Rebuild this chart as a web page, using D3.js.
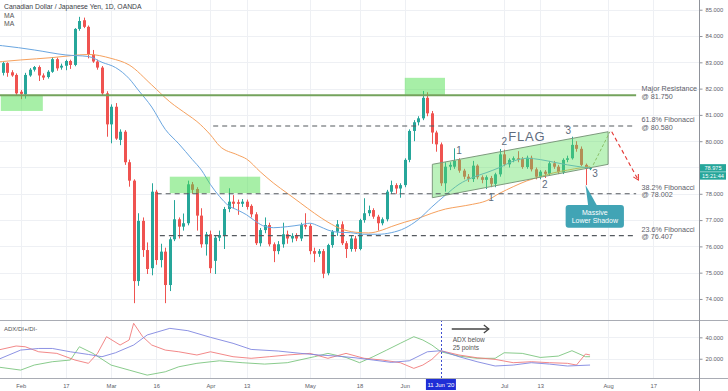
<!DOCTYPE html>
<html>
<head>
<meta charset="utf-8">
<script src="https://cdn.jsdelivr.net/npm/d3@7"></script>
<style>
body { margin: 0; background: #fff; }
text { font-family: "Liberation Sans", Arial, sans-serif; }
</style>
</head>
<body>
<div id="chart"></div>
<script>
// daily bars, index 0 = 28 Jan 2020 (trading days only)
const open = [82.60,82.97,82.62,82.52,81.88,81.78,82.50,82.72,82.82,82.50,
  82.44,82.64,83.12,82.80,82.87,83.05,82.90,84.27,84.60,84.35,
  83.30,83.03,82.80,81.82,80.64,81.31,80.05,80.36,79.20,78.50,
  74.68,76.97,75.86,75.17,78.08,75.48,75.80,74.53,76.27,77.03,
  76.75,76.88,78.36,78.18,77.17,76.08,76.46,75.45,76.33,76.43,
  77.42,77.70,77.68,77.62,77.70,77.54,77.22,76.12,76.62,76.81,
  76.08,75.82,76.08,76.46,76.30,76.40,76.30,76.81,76.78,75.82,
  75.72,75.82,74.98,76.05,76.56,76.84,76.12,75.90,76.30,75.90,
  77.00,77.26,77.38,77.13,76.88,77.03,78.08,78.33,78.20,78.33,
  79.29,80.39,80.72,80.87,81.65,81.06,80.33,79.88,78.40,79.03,
  79.03,79.29,78.88,78.65,78.56,79.07,78.63,78.53,78.60,78.38,
  78.74,79.50,79.12,79.29,79.35,79.32,79.02,79.37,78.93,78.65,
  78.84,78.76,79.16,79.03,78.82,79.29,79.35,79.86,79.71,79.10,
  78.95];
const high = [83.02,83.00,82.70,82.58,81.95,82.60,82.78,82.86,82.88,82.58,
  82.70,83.20,83.18,82.95,83.10,83.10,84.30,84.73,84.70,84.40,
  83.47,83.10,82.86,81.90,81.40,81.45,80.45,80.42,79.30,78.55,
  77.26,77.10,76.15,78.40,78.15,76.10,75.95,76.35,77.76,77.10,
  77.25,78.50,78.45,78.25,77.45,76.55,76.60,76.40,76.60,77.50,
  78.21,77.95,77.78,77.80,77.78,77.60,77.30,76.70,77.10,76.90,
  76.15,76.20,76.90,76.60,76.50,76.50,76.90,77.26,76.85,75.95,
  75.90,75.90,76.10,76.62,77.00,76.95,76.20,76.40,76.40,77.05,
  77.83,77.55,77.45,77.20,77.10,78.15,78.50,78.40,78.40,79.35,
  80.45,80.80,80.95,81.91,81.86,81.15,80.40,79.95,79.20,79.20,
  79.73,79.35,78.95,78.75,79.25,79.12,78.70,78.70,78.68,78.80,
  79.70,79.68,79.35,79.42,79.62,79.40,79.45,79.45,79.00,78.90,
  78.90,79.25,79.25,79.10,79.35,79.45,80.17,80.00,79.80,79.15,
  79.02];
const low = [82.50,82.45,82.45,81.76,81.60,81.62,82.45,82.65,82.29,82.33,
  82.38,82.60,82.68,82.72,82.70,82.75,82.85,84.20,84.30,83.15,
  82.98,82.72,81.72,80.17,79.92,80.05,79.85,79.10,78.27,73.84,
  74.50,75.60,74.95,74.90,75.30,75.20,73.84,74.30,76.20,76.30,
  76.60,76.80,78.00,76.60,75.95,75.65,74.98,74.95,76.20,75.90,
  77.30,77.45,77.20,77.50,77.40,77.10,76.05,76.00,76.50,76.00,
  75.40,75.70,75.95,76.10,76.15,76.20,76.20,76.65,75.70,75.40,
  75.60,74.79,74.90,75.95,76.40,76.05,75.56,75.80,75.80,75.85,
  76.90,77.15,77.05,76.60,76.80,76.95,78.00,78.00,77.85,78.25,
  79.20,80.00,80.60,80.80,80.95,79.90,79.60,78.30,78.08,78.90,
  78.95,78.80,78.55,78.45,78.45,78.55,78.40,78.18,78.25,78.25,
  78.65,79.05,79.00,79.20,79.20,78.95,78.95,78.85,78.55,78.55,
  78.60,78.70,78.95,78.75,78.75,79.20,79.30,79.60,79.05,78.33,
  78.90];
const close = [82.97,82.60,82.50,81.82,81.80,82.52,82.72,82.82,82.50,82.42,
  82.64,83.12,82.77,82.87,83.05,82.90,84.27,84.57,84.35,83.30,
  83.03,82.80,81.82,80.64,81.31,80.10,80.36,79.20,78.50,74.68,
  76.97,75.86,75.14,78.08,75.48,75.80,74.53,76.27,77.03,76.75,
  76.88,78.36,78.15,77.17,76.08,76.46,75.17,76.33,76.43,77.42,
  77.70,77.62,77.62,77.70,77.50,77.22,76.12,76.62,76.81,76.08,
  75.82,76.08,76.46,76.30,76.40,76.30,76.81,76.75,75.82,75.72,
  75.82,74.96,76.05,76.56,76.84,76.12,75.90,76.30,75.90,77.00,
  77.26,77.38,77.13,76.88,77.03,78.08,78.33,78.20,78.33,79.29,
  80.39,80.72,80.87,81.65,81.06,80.33,79.88,78.40,79.03,79.10,
  79.25,78.88,78.65,78.57,79.07,78.63,78.53,78.63,78.38,78.74,
  79.50,79.12,79.29,79.35,79.29,79.02,79.37,78.93,78.65,78.84,
  78.76,79.16,79.03,78.82,79.29,79.35,79.86,79.71,79.10,78.95,
  78.975];

// moving averages: [bar index, value]
const maFast = [[-0.6,83.64],[0,83.63],[7,83.47],[14,83.28],[19,83.22],[22,83.0],[25,82.8],[28,82.38],
  [30,81.95],[33,81.3],[36,80.45],[39,79.9],[42,79.3],[44,78.9],[46,78.35],[48,77.9],[50,77.55],
  [52,77.38],[54,77.2],[56,76.95],[58,76.76],[60,76.71],[63,76.75],[66,76.82],[68,76.88],[70,76.77],
  [72,76.62],[74,76.54],[77,76.52],[80,76.46],[83,76.46],[86,76.52],[89,76.69],[92,77.02],[95,77.5],
  [98,77.95],[101,78.36],[104,78.62],[107,78.8],[110,79.0],[113,79.24],[116,79.35],[119,79.3],
  [122,79.2],[125,79.1],[128,79.02],[130,78.98]];
const maSlow = [[-0.6,83.02],[0,83.03],[4,83.09],[11,83.18],[15,83.25],[19,83.3],[24,83.15],[28,82.9],
  [33,82.14],[37,81.5],[41,81.0],[43,80.75],[46,80.24],[48,79.82],[52,79.48],[54,79.32],[57,78.84],
  [60,78.4],[63,78.02],[66,77.64],[69,77.26],[72,76.92],[75,76.66],[78,76.54],[81,76.51],[84,76.62],
  [86,76.75],[89,76.92],[92,77.07],[95,77.26],[98,77.42],[101,77.51],[104,77.6],[107,77.73],
  [110,78.02],[113,78.27],[116,78.49],[119,78.65],[122,78.8],[125,78.9],[128,78.99],[130,79.03]];

// ADX / DI+ / DI-: [bar index, value]
const adxLine = [[-0.6,20.0],[4,28.1],[8,29.6],[11,29.6],[15,26.5],[19,24.0],[22,21.9],[25,25.6],[29,32.8],
  [32,42.2],[37,48.4],[41,46.2],[46,40.0],[51,34.4],[55,28.7],[61,27.2],[66,25.0],[70,23.5],[74,22.5],
  [78,20.9],[82,18.8],[86,16.6],[90,18.1],[94,26.5],[97,27.5],[101,21.9],[105,17.2],[109,13.2],
  [113,14.1],[117,16.3],[121,15.0],[125,13.2],[130,14.1]];
const diMinus = [[-0.6,28.5],[3,31.9],[5,31.2],[8,26.5],[12,25.0],[16,18.8],[19,15.7],[21,25.0],[23,40.6],
  [26,32.8],[28,37.5],[29,53.1],[31,40.6],[33,32.8],[36,28.1],[39,26.5],[43,23.5],[46,26.5],[51,21.9],
  [55,20.4],[59,21.9],[63,23.5],[68,25.0],[72,20.4],[76,25.0],[80,20.4],[84,18.8],[88,16.3],[91,11.0],
  [93,14.1],[95,19.4],[97,27.5],[101,23.5],[105,20.9],[109,19.4],[113,16.3],[117,17.2],[121,16.3],
  [125,15.7],[127,14.1],[129,24.4],[130,23.5]];
const diPlus = [[-0.6,12.0],[4,9.4],[7,14.1],[11,17.2],[15,18.8],[17,31.2],[20,25.0],[24,14.1],[28,9.4],
  [32,4.7],[36,7.8],[39,12.5],[43,15.7],[48,18.1],[53,16.3],[58,15.0],[63,16.3],[69,21.9],[72,25.0],
  [76,21.2],[79,16.3],[82,21.9],[85,28.1],[88,34.4],[91,40.6],[93,37.5],[95,32.8],[97,26.5],[101,22.5],
  [105,20.4],[109,20.4],[111,25.6],[115,25.0],[119,21.2],[123,22.5],[126,27.5],[129,21.9],[130,21.9]];

// axis ticks
const timeTickIdx = [4,14,24,34,46,54,68,79,89,111,119,134,144];
const timeTickText = ["Feb","17","Mar","16","Apr","13","May","18","Jun","Jul","13","Aug","17"];
const priceTicks = [74,75,76,77,78,79,80,81,82,83,84,85];
const adxTicks = [20,40];

// analysis levels
const levels = [
  {price: 81.750, from: -0.6, name: "Major Resistance", kind: "solid"},
  {price: 80.580, from: 46.6, name: "61.8% Fibonacci", kind: "dash"},
  {price: 78.002, from: 34.1, name: "38.2% Fibonacci", kind: "dash"},
  {price: 76.407, from: 34.8, name: "23.6% Fibonacci", kind: "dash"}
];
const zones = [[-0.4,8.9,81.76,81.15],[37,45.9,78.65,78.02],[48,57,78.65,78.02],[89,97.9,82.41,81.76]];
const flagPts = [[95.1,79.12],[134,80.36],[134,79.12],[95.1,77.85]];
const waveTop = [[101,79.65,"1"],[111,79.98,"2"],[125.2,80.39,"3"]];
const waveBottom = [[108.1,77.86,"1"],[120,78.36,"2"],[131.1,78.78,"3"]];

const W = 728, H = 391;
const up = "#26a69a", down = "#ef5350";

let x = d3.scaleLinear().domain([0, 144]).range([2.6, 653.3]);
let y = d3.scaleLinear().domain([73.2, 85.37]).range([320, 0]);
let yAdx = d3.scaleLinear().domain([2, 56.2]).range([378, 320]);

let svg = d3.select("#chart").append("svg")
    .attr("width", W)
    .attr("height", H);

svg.append("defs").append("clipPath").attr("id", "mainclip")
    .append("rect").attr("x", 0).attr("y", 0).attr("width", 699).attr("height", 320);
svg.select("defs").append("clipPath").attr("id", "adxclip")
    .append("rect").attr("x", 0).attr("y", 320).attr("width", 699).attr("height", 58);

// grid
let grid = svg.append("g").attr("stroke", "#eef0f4").attr("stroke-width", 1);
grid.selectAll("line.v").data(timeTickIdx).enter().append("line")
    .attr("x1", d => Math.round(x(d)) + 0.5).attr("x2", d => Math.round(x(d)) + 0.5)
    .attr("y1", 0).attr("y2", 378);
grid.selectAll("line.h").data(priceTicks).enter().append("line")
    .attr("x1", 0).attr("x2", 699)
    .attr("y1", d => Math.round(y(d)) + 0.5).attr("y2", d => Math.round(y(d)) + 0.5);
grid.selectAll("line.a").data(adxTicks).enter().append("line")
    .attr("x1", 0).attr("x2", 699)
    .attr("y1", d => Math.round(yAdx(d)) + 0.5).attr("y2", d => Math.round(yAdx(d)) + 0.5);

let main = svg.append("g").attr("clip-path", "url(#mainclip)");

// candles
let idx = d3.range(close.length);
let candles = main.selectAll("g.candle").data(idx).enter().append("g")
    .attr("class", "candle");
candles.append("line")
    .attr("x1", i => Math.round(x(i)) + 0.5)
    .attr("x2", i => Math.round(x(i)) + 0.5)
    .attr("y1", i => y(high[i]))
    .attr("y2", i => y(low[i]))
    .attr("stroke", i => close[i] >= open[i] ? up : down)
    .attr("stroke-width", 1);
candles.append("rect")
    .attr("x", i => Math.round(x(i)) - 1)
    .attr("width", 3)
    .attr("y", i => y(Math.max(open[i], close[i])))
    .attr("height", i => Math.max(1, Math.abs(y(open[i]) - y(close[i]))))
    .attr("fill", i => close[i] >= open[i] ? up : down);

// moving averages
let maLine = d3.line().x(d => x(d[0])).y(d => y(d[1])).curve(d3.curveMonotoneX);
main.append("path").datum(maSlow).attr("d", maLine)
    .attr("fill", "none").attr("stroke", "#f6a15e").attr("stroke-width", 1);
main.append("path").datum(maFast).attr("d", maLine)
    .attr("fill", "none").attr("stroke", "#6aa6e0").attr("stroke-width", 1);

// highlighted zones
main.selectAll("rect.zone").data(zones).enter().append("rect")
    .attr("x", d => x(d[0])).attr("width", d => x(d[1]) - x(d[0]))
    .attr("y", d => y(d[2])).attr("height", d => y(d[3]) - y(d[2]))
    .attr("fill", "#4fe04f").attr("fill-opacity", 0.5);

// flag channel
main.append("polygon")
    .attr("points", flagPts.map(p => x(p[0]) + "," + y(p[1])).join(" "))
    .attr("fill", "#5fe05f").attr("fill-opacity", 0.42)
    .attr("stroke", "#7d9a7d").attr("stroke-width", 1);

// levels
levels.forEach(l => {
    main.append("line")
        .attr("x1", x(l.from)).attr("x2", x(140.2))
        .attr("y1", y(l.price)).attr("y2", y(l.price))
        .attr("stroke", l.kind == "solid" ? "#74a35c" : "#555a5f")
        .attr("stroke-width", l.kind == "solid" ? 2 : 1.1)
        .attr("stroke-dasharray", l.kind == "solid" ? null : "5,4");
    let t = svg.append("text")
        .attr("x", x(141.4))
        .attr("y", y(l.price) - 4)
        .attr("font-size", 7.2)
        .attr("fill", "#5d6069");
    t.append("tspan").attr("x", x(141.4)).attr("dy", 0).text(l.name);
    t.append("tspan").attr("x", x(141.4)).attr("dy", 7.6).text("@ " + l.price.toFixed(3));
});

// projected moves
main.append("line")
    .attr("x1", x(130.7)).attr("y1", y(79.10))
    .attr("x2", x(134.4)).attr("y2", y(80.36))
    .attr("stroke", "#8cc06a").attr("stroke-width", 1).attr("stroke-dasharray", "3,2");
let ax1 = x(134.8), ay1 = y(80.36), ax2 = x(140.7), ay2 = y(78.52);
main.append("line")
    .attr("x1", ax1).attr("y1", ay1).attr("x2", ax2).attr("y2", ay2)
    .attr("stroke", "#e53935").attr("stroke-width", 1.1).attr("stroke-dasharray", "4,3");
let ang = Math.atan2(ay2 - ay1, ax2 - ax1);
main.append("path")
    .attr("d", "M" + (ax2 - 6 * Math.cos(ang - 0.5)) + "," + (ay2 - 6 * Math.sin(ang - 0.5)) +
        "L" + ax2 + "," + ay2 +
        "L" + (ax2 - 6 * Math.cos(ang + 0.5)) + "," + (ay2 - 6 * Math.sin(ang + 0.5)))
    .attr("fill", "none").attr("stroke", "#e53935").attr("stroke-width", 1.1);

// flag text
svg.append("text").attr("x", x(116)).attr("y", y(80.17)).attr("dy", "0.35em")
    .attr("text-anchor", "middle").attr("font-size", 13).attr("letter-spacing", 0.8)
    .attr("fill", "#5e6c7e").text("FLAG");
svg.selectAll("text.wave").data(waveTop.concat(waveBottom)).enter().append("text")
    .attr("x", d => x(d[0])).attr("y", d => y(d[1])).attr("dy", "0.35em")
    .attr("text-anchor", "middle").attr("font-size", 10)
    .attr("fill", "#5e6c7e").text(d => d[2]);

// callout
let cTeal = "#41a4b5";
svg.append("path")
    .attr("d", "M" + x(129) + "," + y(78.33) + "L" + x(129.6) + "," + (y(77.57) + 1) +
        "L" + x(131.6) + "," + (y(77.57) + 1) + "Z")
    .attr("fill", cTeal);
svg.append("rect")
    .attr("x", x(124.6)).attr("y", y(77.57))
    .attr("width", x(137.5) - x(124.6)).attr("height", y(76.71) - y(77.57))
    .attr("rx", 3).attr("fill", cTeal);
svg.append("text").attr("x", x(131.05)).attr("y", y(77.57) + 9.5)
    .attr("text-anchor", "middle").attr("font-size", 7).attr("fill", "#fff").text("Massive");
svg.append("text").attr("x", x(131.05)).attr("y", y(77.57) + 17.5)
    .attr("text-anchor", "middle").attr("font-size", 7).attr("fill", "#fff").text("Lower Shadow");

// ADX pane
let adxG = svg.append("g").attr("clip-path", "url(#adxclip)");
let adxPath = d3.line().x(d => x(d[0])).y(d => yAdx(d[1])).curve(d3.curveLinear);
adxG.append("path").datum(diPlus).attr("d", adxPath)
    .attr("fill", "none").attr("stroke", "#7cc57f").attr("stroke-width", 0.9);
adxG.append("path").datum(diMinus).attr("d", adxPath)
    .attr("fill", "none").attr("stroke", "#f07b7b").attr("stroke-width", 0.9);
adxG.append("path").datum(adxLine).attr("d", adxPath)
    .attr("fill", "none").attr("stroke", "#7f86e0").attr("stroke-width", 0.9);

svg.append("line")
    .attr("x1", Math.round(x(97)) + 0.5).attr("x2", Math.round(x(97)) + 0.5)
    .attr("y1", 320).attr("y2", 380)
    .attr("stroke", "#3f4fd0").attr("stroke-width", 1).attr("stroke-dasharray", "2,2");

let arY = yAdx(47.8);
svg.append("line").attr("x1", x(99.4)).attr("x2", x(107.6)).attr("y1", arY).attr("y2", arY)
    .attr("stroke", "#444").attr("stroke-width", 1.3);
svg.append("path")
    .attr("d", "M" + (x(107.6) - 5) + "," + (arY - 4) + "L" + x(107.6) + "," + arY +
        "L" + (x(107.6) - 5) + "," + (arY + 4))
    .attr("fill", "none").attr("stroke", "#444").attr("stroke-width", 1.3);
svg.append("text").attr("x", x(99.6)).attr("y", yAdx(37.5)).attr("dy", "0.35em")
    .attr("font-size", 6.5).attr("fill", "#555").text("ADX below");
svg.append("text").attr("x", x(99.6)).attr("y", yAdx(30.5)).attr("dy", "0.35em")
    .attr("font-size", 6.5).attr("fill", "#555").text("25 points");

svg.append("text").attr("x", 4).attr("y", 329).attr("dy", "0.35em")
    .attr("font-size", 6).attr("fill", "#555").text("ADX/DI+/DI-");

// frame lines
svg.append("line").attr("x1", 0).attr("x2", W).attr("y1", 320.5).attr("y2", 320.5)
    .attr("stroke", "#a9acb4").attr("stroke-width", 1);
svg.append("line").attr("x1", 0).attr("x2", W).attr("y1", 378.5).attr("y2", 378.5)
    .attr("stroke", "#a9acb4").attr("stroke-width", 1);
svg.append("line").attr("x1", 699.5).attr("x2", 699.5).attr("y1", 0).attr("y2", H)
    .attr("stroke", "#8f929a").attr("stroke-width", 1);

// axes (the 79 label sits under the last-price box, so it is left blank)
let lastPrice = close[close.length - 1];
let priceAxis = d3.axisRight(y).tickValues(priceTicks)
    .tickFormat(d => Math.abs(d - lastPrice) < 0.4 ? "" : d3.format(".3f")(d))
    .tickSize(3).tickPadding(3);
let pa = svg.append("g").attr("transform", "translate(699.5,0)").call(priceAxis);
let adxAxis = d3.axisRight(yAdx).tickValues(adxTicks).tickFormat(d3.format(".3f")).tickSize(3).tickPadding(3);
let aa = svg.append("g").attr("transform", "translate(699.5,0)").call(adxAxis);
let timeAxis = d3.axisBottom(x).tickValues(timeTickIdx).tickFormat((d, i) => timeTickText[i]).tickSize(0).tickPadding(5);
let ta = svg.append("g").attr("transform", "translate(0,378.5)").call(timeAxis);
[pa, aa, ta].forEach(g => {
    g.select(".domain").remove();
    g.selectAll(".tick line").attr("stroke", "#8f929a");
    g.selectAll("text").attr("font-size", 5.8).attr("fill", "#5d6069")
        .attr("font-family", '"Liberation Sans", Arial, sans-serif');
});

// crosshair date label
let jx = x(97);
svg.append("rect").attr("x", jx - 15).attr("y", 379).attr("width", 30).attr("height", 11)
    .attr("fill", "#1f2ed6");
svg.append("text").attr("x", jx).attr("y", 384.5).attr("dy", "0.35em")
    .attr("text-anchor", "middle").attr("font-size", 6).attr("fill", "#fff").text("11 Jun '20");

// last price label
let lastY = y(lastPrice);
svg.append("rect").attr("x", 700).attr("y", lastY - 4).attr("width", 26).attr("height", 7.5).attr("fill", up);
svg.append("rect").attr("x", 700).attr("y", lastY + 4).attr("width", 26).attr("height", 7.5).attr("fill", up);
svg.append("text").attr("x", 713).attr("y", lastY - 0.3).attr("dy", "0.35em").attr("text-anchor", "middle")
    .attr("font-size", 5.6).attr("fill", "#fff").text(lastPrice.toFixed(3));
svg.append("text").attr("x", 713).attr("y", lastY + 7.8).attr("dy", "0.35em").attr("text-anchor", "middle")
    .attr("font-size", 5.6).attr("fill", "#fff").text("15:21:44");

// title
svg.append("text").attr("x", 4).attr("y", 7).attr("dy", "0.35em")
    .attr("font-size", 6.8).attr("fill", "#3a3d45").text("Canadian Dollar / Japanese Yen, 1D, OANDA");
svg.append("text").attr("x", 4).attr("y", 15.2).attr("dy", "0.35em")
    .attr("font-size", 6.8).attr("fill", "#555").text("MA");
svg.append("text").attr("x", 4).attr("y", 23.4).attr("dy", "0.35em")
    .attr("font-size", 6.8).attr("fill", "#555").text("MA");
</script>
</body>
</html>
